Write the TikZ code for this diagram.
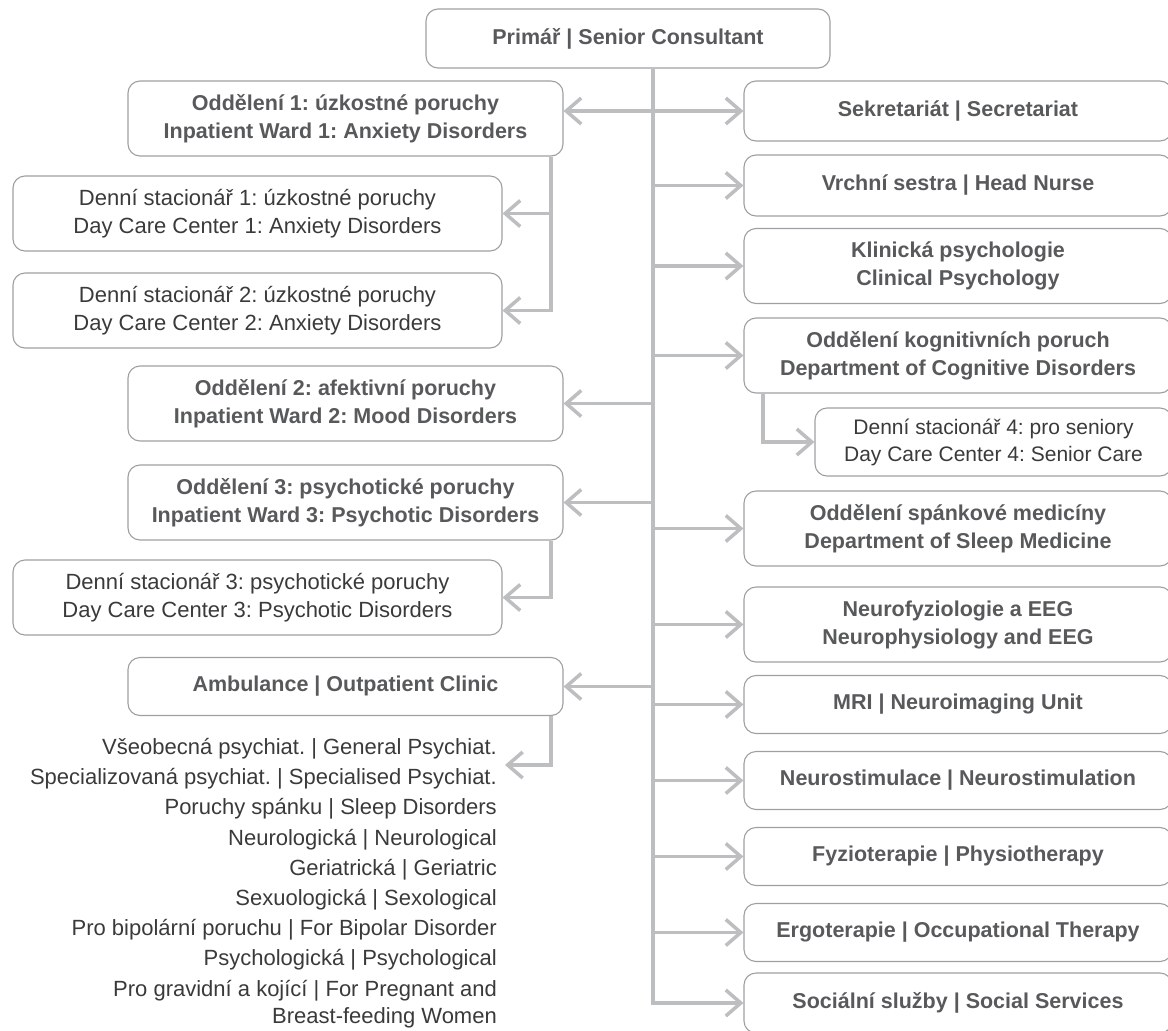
\documentclass[tikz,border=0pt]{standalone}
\usepackage{fontspec}
\setmainfont{Liberation Sans}
\usetikzlibrary{arrows.meta}
\definecolor{framegrey}{HTML}{9D9FA2}
\definecolor{linegrey}{HTML}{BCBEC0}
\definecolor{boldgrey}{HTML}{58595B}
\definecolor{textgrey}{HTML}{3A3A3A}
\frenchspacing

\begin{document}
\begin{tikzpicture}[x=1pt,y=-1pt,
  box/.style={draw=framegrey,line width=1.1pt,rounded corners=12pt,align=center,inner sep=0pt},
  bold/.style={box,text=boldgrey,font=\fontsize{21.5}{28}\selectfont\bfseries},
  plain/.style={box,text=textgrey,font=\fontsize{22}{28}\selectfont},
  lbox/.style={minimum width=435pt},
  sbox/.style={minimum width=489pt},
  rbox/.style={minimum width=428pt},
  two/.style={minimum height=75pt},
  one/.style={minimum height=58pt},
  wire/.style={draw=linegrey,line width=3.5pt},
  arr/.style={wire,-{Straight Barb[length=15pt,width=26pt]}}]

  \clip[use as bounding box] (0,0) rectangle (1168,1031);

  \node[bold,minimum width=404pt,minimum height=59pt] (head) at (628,38.5) {Primář | Senior Consultant};

  % left side
  \node[bold,lbox,two] (w1) at (345.5,118.5) {Oddělení 1: úzkostné poruchy\\Inpatient Ward 1: Anxiety Disorders};
  \node[plain,sbox,two] (d1) at (257.5,213.5) {Denní stacionář 1: úzkostné poruchy\\Day Care Center 1: Anxiety Disorders};
  \node[plain,sbox,two] (d2) at (257.5,310.5) {Denní stacionář 2: úzkostné poruchy\\Day Care Center 2: Anxiety Disorders};
  \node[bold,lbox,two] (w2) at (345.5,403.5) {Oddělení 2: afektivní poruchy\\Inpatient Ward 2: Mood Disorders};
  \node[bold,lbox,two] (w3) at (345.5,502.5) {Oddělení 3: psychotické poruchy\\Inpatient Ward 3: Psychotic Disorders};
  \node[plain,sbox,two] (d3) at (257.5,597.5) {Denní stacionář 3: psychotické poruchy\\Day Care Center 3: Psychotic Disorders};
  \node[bold,lbox,one] (amb) at (345.5,686.5) {Ambulance | Outpatient Clinic};
  \node[anchor=north east,align=right,inner sep=0pt,text=textgrey,font=\fontsize{22}{27}\selectfont] (list) at (497,738)
    {Všeobecná psychiat. | General Psychiat.\\[3.2pt]
     Specializovaná psychiat. | Specialised Psychiat.\\[3.2pt]
     Poruchy spánku | Sleep Disorders\\[3.2pt]
     Neurologická | Neurological\\[3.2pt]
     Geriatrická | Geriatric\\[3.2pt]
     Sexuologická | Sexological\\[3.2pt]
     Pro bipolární poruchu | For Bipolar Disorder\\[3.2pt]
     Psychologická | Psychological\\[3.2pt]
     Pro gravidní a kojící | For Pregnant and\\
     Breast-feeding Women};

  % right side
  \node[bold,rbox,minimum height=60pt] (r1) at (958,111) {Sekretariát | Secretariat};
  \node[bold,rbox,minimum height=61pt] (r2) at (958,185.5) {Vrchní sestra | Head Nurse};
  \node[bold,rbox,two] (r3) at (958,266) {Klinická psychologie\\Clinical Psychology};
  \node[bold,rbox,two] (r4) at (958,355.5) {Oddělení kognitivních poruch\\Department of Cognitive Disorders};
  \node[plain,minimum width=357pt,minimum height=68pt,font=\fontsize{21}{27}\selectfont] (d4) at (993.5,442) {Denní stacionář 4: pro seniory\\Day Care Center 4: Senior Care};
  \node[bold,rbox,two] (r5) at (958,528.5) {Oddělení spánkové medicíny\\Department of Sleep Medicine};
  \node[bold,rbox,two] (r6) at (958,624.5) {Neurofyziologie a EEG\\Neurophysiology and EEG};
  \node[bold,rbox,one] (r7) at (958,704.5) {MRI | Neuroimaging Unit};
  \node[bold,rbox,one] (r8) at (958,780.5) {Neurostimulace | Neurostimulation};
  \node[bold,rbox,one] (r9) at (958,856.5) {Fyzioterapie | Physiotherapy};
  \node[bold,rbox,one] (r10) at (958,932.5) {Ergoterapie | Occupational Therapy};
  \node[bold,rbox,minimum height=60pt] (r11) at (958,1003) {Sociální služby | Social Services};

  \coordinate (trunk) at (653,0);
  \coordinate (sub) at (551,0);
  \coordinate (sub4) at (763,0);
  \coordinate (tip) at (505,765);

  \draw[arr] (head.south -| trunk) |- (r11.west);
  \foreach \n in {r1,r2,r3,r4,r5,r6,r7,r8,r9,r10}
    \draw[arr] (\n.west -| trunk) -- (\n.west);
  \draw[arr] (r1.west -| trunk) -- (r1.west -| w1.east);
  \foreach \n in {w2,w3,amb}
    \draw[arr] (\n.east -| trunk) -- (\n.east);

  \draw[arr] (w1.south -| sub) |- (d1.east);
  \draw[arr] (w1.south -| sub) |- (d2.east);
  \draw[arr] (w3.south -| sub) |- (d3.east);
  \draw[arr] (amb.south -| sub) |- (tip);
  \draw[arr] (r4.south -| sub4) |- (d4.west);
\end{tikzpicture}
\end{document}
